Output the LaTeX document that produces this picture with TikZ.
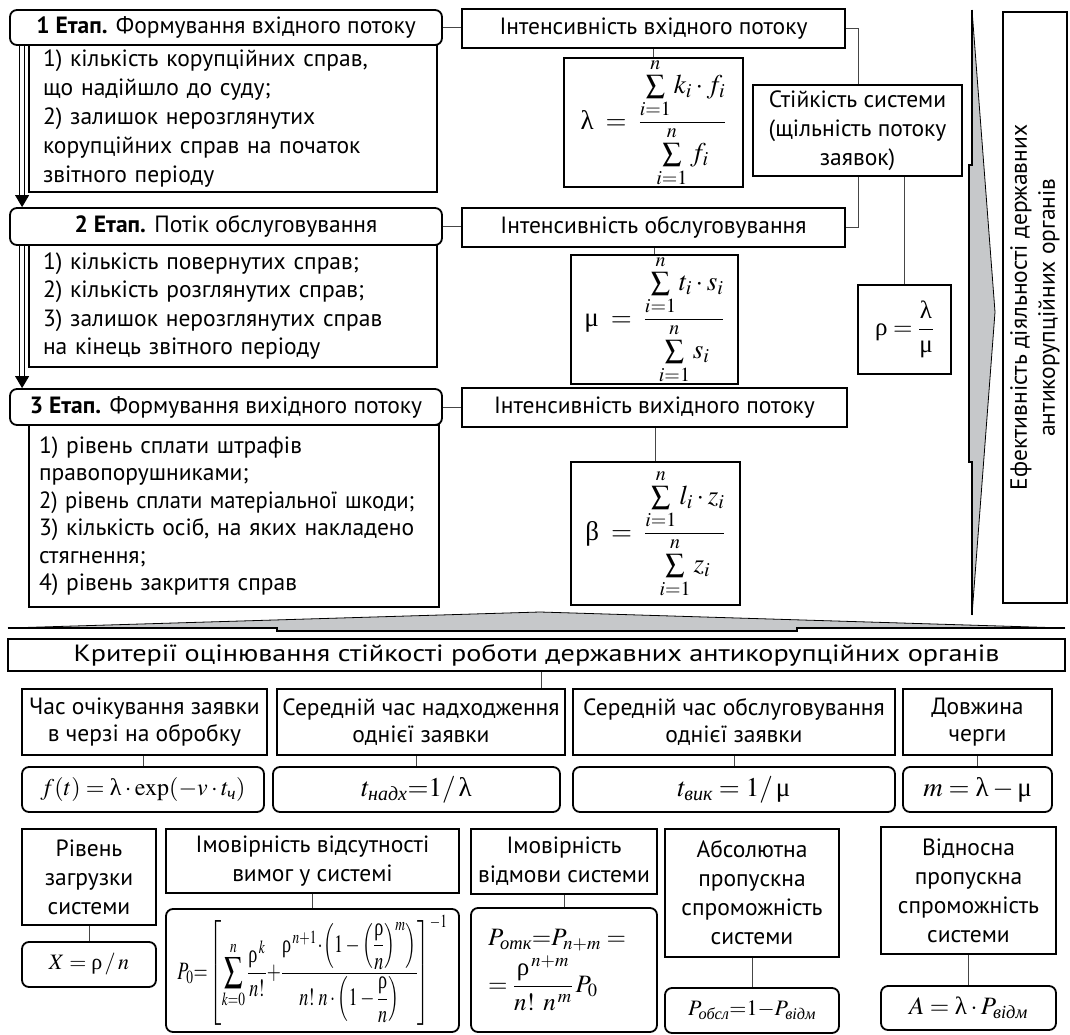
\documentclass[tikz,border=0pt]{standalone}
\usepackage{amsmath}
\usepackage{graphicx}
\usepackage{mathptmx}
\usepackage[no-math]{fontspec}
\setmainfont{PT Sans}
\newfontfamily\grk{Liberation Serif}
\usetikzlibrary{arrows.meta,calc}
\definecolor{arrgray}{RGB}{198,200,202}
\definecolor{cngray}{RGB}{70,70,70}
\newcommand\GL{\text{\grk λ}}
\newcommand\GM{\text{\grk μ}}
\newcommand\GR{\text{\grk ρ}}
\newcommand\GB{\text{\grk β}}
\newcommand\cyi[1]{\text{\grk\itshape #1}}
\newcommand\bxat[7]{\node[#1, minimum width={(#4-#2)*1pt}, minimum height={(#5-#3)*1pt}] (#6) at ({(#2+#4)/2},{(#3+#5)/2}) {#7};}
\tikzset{
  bx/.style={draw, line width=1.8pt, inner sep=0pt, align=center, font=\fontsize{23.5}{29}\selectfont},
  rbx/.style={bx, rounded corners=7pt},
  lst/.style={align=left},
  cn/.style={draw=cngray, line width=1pt},
  stagearrow/.style={draw, line width=0.8pt, double=white, double distance=4pt, -{Triangle[length=12pt,width=14pt]}},
  mth/.style={font=\fontsize{#1}{#1}\selectfont},
  mth/.default=24
}
\begin{document}
\begin{tikzpicture}[x=1pt,y=-1pt]
\useasboundingbox (0,0) rectangle (1070,1035);
% ---------- stages ----------
\bxat{rbx}{10}{10}{442}{45}{s1}{\textbf{1 Етап.} Формування вхідного потоку}
\bxat{bx, text width=380pt, lst, font=\fontsize{23.5}{29}\selectfont}{29}{45}{437}{192}{c1}{1) кількість корупційних справ,\\ що надійшло до суду;\\ 2) залишок нерозглянутих\\ корупційних справ на початок\\ звітного періоду}
\bxat{rbx}{10}{208}{442}{245}{s2}{\textbf{2 Етап.} Потік обслуговування}
\bxat{bx, text width=380pt, lst, font=\fontsize{23.5}{28.5}\selectfont}{29}{245}{437}{367}{c2}{1) кількість повернутих справ;\\ 2) кількість розглянутих справ;\\ 3) залишок нерозглянутих справ\\ на кінець звітного періоду}
\bxat{rbx}{10}{389}{442}{425}{s3}{\textbf{3 Етап.} Формування вихідного потоку}
\bxat{bx, text width=390pt, lst, font=\fontsize{23.5}{27.5}\selectfont}{29}{425}{439}{607}{c3}{1) рівень сплати штрафів\\ правопорушниками;\\ \scalebox{0.96}[1]{2) рівень сплати матеріальної шкоди;}\\ 3) кількість осіб, на яких накладено\\ стягнення;\\ 4) рівень закриття справ}
\draw[stagearrow] ($(s1.south west)+(13,0)$) -- ($(s2.north west)+(13,0)$);
\draw[stagearrow] ($(s2.south west)+(13,0)$) -- ($(s3.north west)+(13,0)$);
% ---------- intensities ----------
\bxat{bx}{462}{9}{845}{48}{i1}{Інтенсивність вхідного потоку}
\bxat{bx}{462}{208}{845}{247}{i2}{Інтенсивність обслуговування}
\bxat{bx}{462}{388}{847}{427}{i3}{Інтенсивність вихідного потоку}
\draw[cn] (s1.east) -- (s1.east -| i1.west);
\draw[cn] (s2.east) -- (s2.east -| i2.west);
\draw[cn] (s3.east) -- (s3.east -| i3.west);
\bxat{bx, mth=27}{564}{65}{743}{180}{f1}{$\displaystyle\GL\;=\;\frac{\sum\limits_{i=1}^{n}k_i\cdot f_i}{\sum\limits_{i=1}^{n}f_i}$}
\bxat{bx, mth=27}{571}{260}{738}{379}{f2}{$\displaystyle\GM\;=\;\frac{\sum\limits_{i=1}^{n}t_i\cdot s_i}{\sum\limits_{i=1}^{n}s_i}$}
\bxat{bx, mth=27}{571}{462}{740}{605}{f3}{$\displaystyle\GB\;=\;\frac{\sum\limits_{i=1}^{n}l_i\cdot z_i}{\sum\limits_{i=1}^{n}z_i}$}
\draw[cn] (f1.north) -- (f1.north |- i1.south);
\draw[cn] (f2.north) -- (f2.north |- i2.south);
\draw[cn] (f3.north) -- (f3.north |- i3.south);
% ---------- stability ----------
\bxat{bx}{753}{85}{962}{176}{st}{Стійкість системи\\(щільність потоку\\заявок)}
\coordinate (k1) at (858,0);
\draw[cn] (i1.east) -| (st.north -| k1);
\draw[cn] (st.south -| k1) |- (i2.east);
\bxat{bx, mth=25}{858}{285}{951}{374}{rho}{$\GR=\dfrac{\GL}{\GM}$}
\draw[cn] (rho.north) -- (rho.north |- st.south);
% ---------- right arrow and box ----------
\fill[arrgray] (972,10) -- (995,312) -- (972,615) -- (972,462) -- (969,462) -- (969,165) -- (972,165) -- cycle;
\draw[line width=0.8pt] (972,10) -- (995,312) -- (972,615);
\draw[line width=1.8pt] (972,10) -- (972,165) -- (969,165) -- (969,462) -- (972,462) -- (972,615);
\node[bx, rotate=90, minimum width=591pt, minimum height=64pt, font=\fontsize{23.5}{28}\selectfont] (eff) at (1035,307.5) {Ефективність діяльності державних\\антикорупційних органів};
% ---------- bottom arrow ----------
\fill[arrgray] (8,628) -- (540,612) -- (1065,628) -- (797,628) -- (797,631) -- (277,631) -- (277,628) -- cycle;
\draw[line width=0.8pt] (8,628) -- (540,612) -- (1065,628);
\draw[line width=1.8pt] (8,628) -- (277,628) -- (277,631) -- (797,631) -- (797,628) -- (1065,628);
% ---------- criteria ----------
\bxat{bx}{8}{639}{1065}{671}{kr}{\scalebox{1.2}[1]{Критерії оцінювання стійкості роботи державних антикорупційних органів}}
\bxat{bx, font=\fontsize{23.5}{27}\selectfont}{22}{689}{267}{755}{a1}{Час очікування заявки\\в черзі на обробку}
\bxat{bx, font=\fontsize{23.5}{27}\selectfont}{277}{689}{565}{755}{a2}{Середній час надходження\\однієї заявки}
\bxat{bx, font=\fontsize{23.5}{27}\selectfont}{573}{689}{895}{755}{a3}{Середній час обслуговування\\однієї заявки}
\bxat{bx, font=\fontsize{23.5}{27}\selectfont}{903}{689}{1052}{755}{a4}{Довжина\\черги}
\coordinate (kc) at (541,0);
\draw[cn] (kr.south -| kc) -- (a2.north -| kc);
\bxat{rbx, mth=24}{22}{767}{264}{812}{b1}{$f(t)=\GL\cdot\exp(-v\cdot t_{\cyi{ч}})$}
\bxat{rbx, mth=27}{273}{767}{560}{812}{b2}{$t_{\cyi{надх}}{=}1/\,\GL$}
\bxat{rbx, mth=27}{573}{767}{895}{812}{b3}{$t_{\cyi{вик}}=1/\,\GM$}
\bxat{rbx, mth=27}{903}{767}{1052}{812}{b4}{$m=\GL-\GM$}
\draw[cn] (b1.north) -- (b1.north |- a1.south);
\draw[cn] (b2.north) -- (b2.north |- a2.south);
\draw[cn] (b3.north) -- (b3.north |- a3.south);
\draw[cn] (b4.north) -- (b4.north |- a4.south);
% ---------- row 3 ----------
\bxat{bx}{22}{829}{156}{925}{r1}{Рівень\\загрузки\\системи}
\bxat{rbx, mth=22}{22}{942}{156}{987}{q1}{$X=\GR\,/\,n$}
\bxat{bx}{166}{829}{459}{893}{r2}{Імовірність відсутності\\вимог у системі}
\bxat{rbx, mth=18}{166}{909}{459}{1032}{q2}{\resizebox*{270pt}{110pt}{$\displaystyle P_0{=}\left[\sum_{k=0}^{n}\frac{\GR^{\,k}}{n!}{+}\frac{\GR^{\,n+1}\!\cdot\!\left(1-\left(\dfrac{\GR}{n}\right)^{m}\right)}{n!\;n\cdot\left(1-\dfrac{\GR}{n}\right)}\right]^{-1}$}}
\bxat{bx}{471}{829}{657}{894}{r3}{Імовірність\\відмови системи}
\bxat{rbx, text width=152pt, lst, font=\fontsize{25}{30}\selectfont}{471}{908}{657}{1032}{q3}{$P_{\cyi{отк}}{=}P_{n+m}=$\\[4pt]$=\dfrac{\GR^{\,n+m}}{n!\;\,n^{\,m}}\,P_0$}
\bxat{bx}{665}{829}{839}{957}{r4}{Абсолютна\\пропускна\\спроможність\\системи}
\bxat{rbx, mth=22}{665}{988}{839}{1033}{q4}{$P_{\cyi{обсл}}{=}1{-}P_{\cyi{відм}}$}
\bxat{bx}{881}{827}{1056}{954}{r5}{Відносна\\пропускна\\спроможність\\системи}
\bxat{rbx, mth=25}{881}{986}{1056}{1030}{q5}{$A=\GL\cdot P_{\cyi{відм}}$}
\draw[cn] (q1.north) -- (q1.north |- r1.south);
\draw[cn] (q2.north) -- (q2.north |- r2.south);
\draw[cn] (q3.north) -- (q3.north |- r3.south);
\draw[cn] (q4.north) -- (q4.north |- r4.south);
\draw[cn] (q5.north) -- (q5.north |- r5.south);
\end{tikzpicture}
\end{document}
